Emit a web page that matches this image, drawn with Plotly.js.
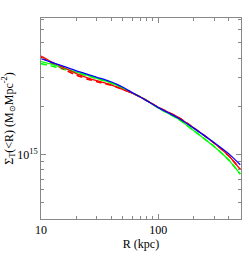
<!DOCTYPE html>
<html><head><meta charset="utf-8">
<script src="https://cdn.plot.ly/plotly-3.0.1.min.js"></script>
<style>html,body{margin:0;padding:0;background:#fff}</style>
</head><body><div id="chart" style="width:249px;height:262px"></div>
<script>
// radii (kpc)
const R = [10, 12, 15, 20, 25, 30, 35, 40, 45, 50, 60, 70, 80, 100, 150, 200, 300, 400, 500];
// log10 Sigma (Msun Mpc^-2)
const logBlue   = [15.598, 15.578, 15.554, 15.522, 15.500, 15.481, 15.467, 15.452, 15.436, 15.419, 15.386, 15.358, 15.334, 15.292, 15.224, 15.164, 15.073, 15.003, 14.935];
const logRed    = [15.614, 15.582, 15.548, 15.505, 15.478, 15.460, 15.446, 15.433, 15.419, 15.405, 15.383, 15.359, 15.336, 15.294, 15.229, 15.166, 15.070, 14.990, 14.906];
const logGreen  = [15.579, 15.565, 15.543, 15.514, 15.493, 15.474, 15.460, 15.445, 15.429, 15.413, 15.383, 15.360, 15.336, 15.290, 15.218, 15.149, 15.048, 14.964, 14.876];
const logGreenD = [15.567, 15.554, 15.535, 15.510, 15.490, 15.472, 15.459, 15.444, 15.429, 15.413, 15.383, 15.360, 15.336, 15.290, 15.218, 15.149, 15.048, 14.964, 14.876];
const logRedD   = [15.606, 15.574, 15.539, 15.495, 15.470, 15.454, 15.442, 15.431, 15.418, 15.405, 15.383, 15.359, 15.336, 15.294, 15.229, 15.166, 15.070, 14.990, 14.906];

const xMajor = [10, 100];
const xMajorText = ['10', '100'];
const xMinor = [20, 30, 40, 50, 60, 70, 80, 90, 200, 300, 400];
const yMajor = [1e15];
const yMajorText = ['10<sup>15</sup>'];
const yMinor = [5e14, 6e14, 7e14, 8e14, 9e14, 2e15, 3e15, 4e15, 5e15, 6e15, 7e15];

const pow = a => a.map(v => Math.pow(10, v));
function tr(y, color, dash, w) {
  return {x: R, y: pow(y), type: 'scatter', mode: 'lines',
          line: {color: color, width: w || 1.3, dash: dash || 'solid', shape: 'spline', smoothing: 0.6},
          showlegend: false, hoverinfo: 'skip'};
}
const data = [
  tr(logGreenD, '#00ff00', '6px,4px', 1.6),
  tr(logRedD, '#ff0000', '6px,4px', 1.6),
  tr(logGreen, '#00ff00'),
  tr(logRed, '#ff0000'),
  tr(logBlue, '#0000ff')
];
const font = {family: 'Liberation Serif, Times New Roman, serif', size: 12, color: '#000'};
const axisCommon = {
  type: 'log', showgrid: false, zeroline: false, showline: true, linecolor: '#888', linewidth: 1,
  mirror: 'ticks', ticks: 'inside', ticklen: 5, tickcolor: '#888', tickwidth: 1,
  tickmode: 'array', tickfont: font
};
const layout = {
  width: 249, height: 262,
  margin: {l: 41, r: 8, t: 18, b: 43},
  paper_bgcolor: '#fff', plot_bgcolor: '#fff', font: font,
  xaxis: Object.assign({}, axisCommon, {
    range: [1, 2.705], tickvals: xMajor, ticktext: xMajorText,
    minor: {tickmode: 'array', tickvals: xMinor, ticks: 'inside', ticklen: 3, tickcolor: '#888', tickwidth: 1},
    title: {text: 'R (kpc)', font: font, standoff: 1}
  }),
  yaxis: Object.assign({}, axisCommon, {
    range: [14.596, 15.852], tickvals: yMajor, ticktext: yMajorText,
    minor: {tickmode: 'array', tickvals: yMinor, ticks: 'inside', ticklen: 3, tickcolor: '#888', tickwidth: 1},
    title: {text: 'Σ<sub>T</sub>(&lt;R) (M<sub>⊙</sub>Mpc<sup>-2</sup>)', font: font, standoff: 1}
  })
};
Plotly.newPlot('chart', data, layout, {staticPlot: true, displayModeBar: false});
</script></body></html>
